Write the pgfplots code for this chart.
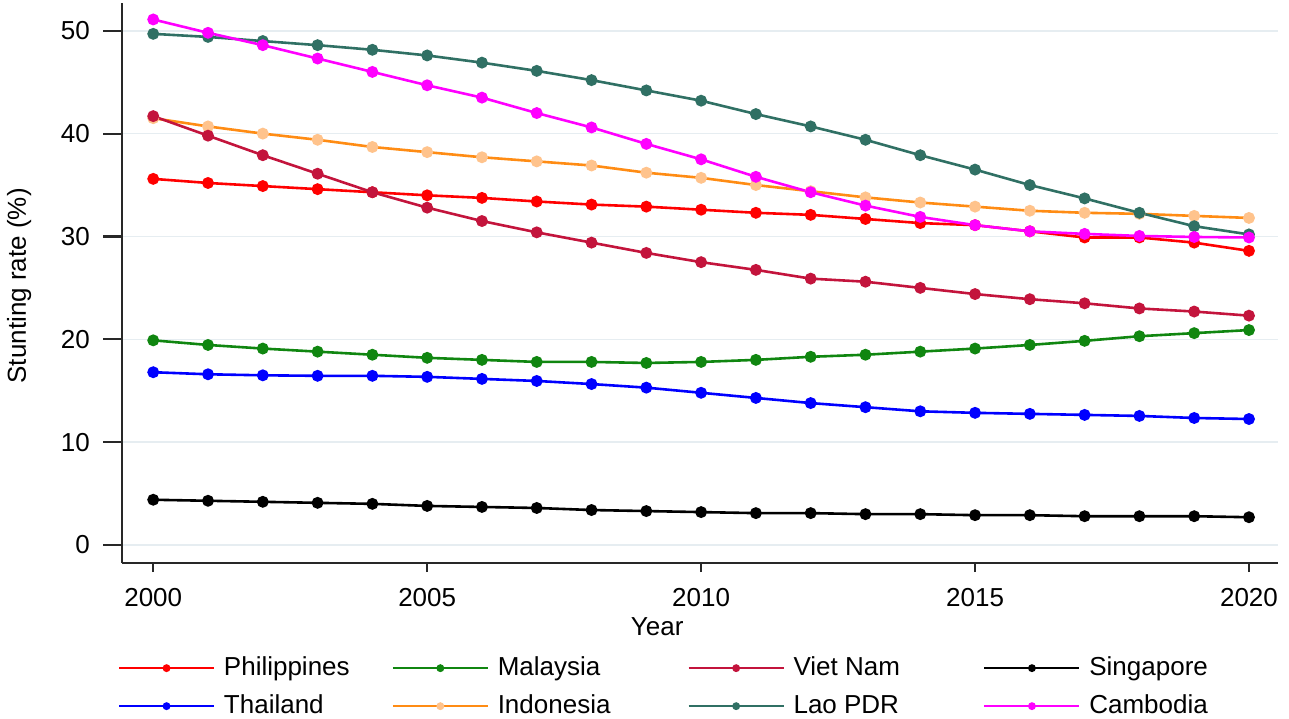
\documentclass[border=0pt]{standalone}
\usepackage{fontspec}
\setmainfont{Liberation Sans}
\usepackage{pgfplots}
\pgfplotsset{compat=1.18}
\definecolor{cPhil}{RGB}{255,0,0}
\definecolor{cMal}{RGB}{16,134,16}
\definecolor{cViet}{RGB}{195,20,60}
\definecolor{cSing}{RGB}{0,0,0}
\definecolor{cThai}{RGB}{0,0,255}
\definecolor{cIndo}{RGB}{255,140,20}
\definecolor{cIndoM}{RGB}{255,195,140}
\definecolor{cLao}{RGB}{48,112,100}
\definecolor{cCam}{RGB}{255,0,255}
\definecolor{cGrid}{RGB}{230,237,241}
\definecolor{cAxis}{RGB}{40,40,40}
\pgfplotstableread{
year phil mal viet sing thai indo lao cam
2000 35.6 19.9 41.7 4.4 16.8 41.5 49.7 51.1
2001 35.2 19.45 39.8 4.3 16.6 40.7 49.4 49.8
2002 34.9 19.1 37.9 4.2 16.5 40.0 49.0 48.6
2003 34.6 18.8 36.1 4.1 16.45 39.4 48.6 47.3
2004 34.3 18.5 34.3 4.0 16.45 38.7 48.15 46.0
2005 34.0 18.2 32.8 3.8 16.35 38.2 47.6 44.7
2006 33.75 18.0 31.5 3.7 16.15 37.7 46.9 43.5
2007 33.4 17.8 30.4 3.6 15.95 37.3 46.1 42.0
2008 33.1 17.8 29.4 3.4 15.65 36.9 45.2 40.6
2009 32.9 17.7 28.4 3.3 15.3 36.2 44.2 39.0
2010 32.6 17.8 27.5 3.2 14.8 35.7 43.2 37.5
2011 32.3 18.0 26.75 3.1 14.3 35.0 41.9 35.8
2012 32.1 18.3 25.9 3.1 13.8 34.4 40.7 34.3
2013 31.7 18.5 25.6 3.0 13.4 33.8 39.4 33.0
2014 31.3 18.8 25.0 3.0 13.0 33.3 37.9 31.9
2015 31.1 19.1 24.4 2.9 12.85 32.9 36.5 31.1
2016 30.5 19.45 23.9 2.9 12.75 32.5 35.0 30.5
2017 29.9 19.85 23.5 2.8 12.65 32.3 33.7 30.25
2018 29.9 20.3 23.0 2.8 12.55 32.2 32.3 30.05
2019 29.4 20.6 22.7 2.8 12.35 32.0 31.0 29.95
2020 28.6 20.9 22.3 2.7 12.25 31.8 30.2 29.9
}\data
\begin{document}
\begin{tikzpicture}
\useasboundingbox (-122bp,-156bp) rectangle (1167bp,563bp);
\begin{axis}[
  scale only axis,
  width=1156bp, height=560bp,
  xmin=1999.43, xmax=2020.53,
  ymin=-1.75, ymax=52.7,
  axis x line*=bottom, axis y line*=left,
  axis line style={-, draw=cAxis, line width=2.6bp},
  xtick={2000,2005,...,2020},
  ytick={0,10,...,50},
  tick align=outside,
  major tick length=19bp,
  xtick style={/pgfplots/major tick length=9bp},
  tick style={draw=cAxis, line width=2.2bp},
  ymajorgrids,
  grid style={draw=cGrid, line width=1.6bp},
  /pgf/number format/assume math mode=true,
  /pgf/number format/1000 sep={},
  font=\fontsize{26bp}{30bp}\selectfont,
  tick label style={font=\fontsize{26bp}{30bp}\selectfont, inner sep=0pt},
  yticklabel style={xshift=-13bp},
  xticklabel style={yshift=-6bp},
  xlabel={Year},
  xlabel style={at={(axis description cs:0.463,-0.1143)}, anchor=center},
  ylabel={Stunting rate (\%)},
  ylabel style={at={(axis description cs:-0.089,0.495)}, anchor=center},
  clip=false,
  legend columns=4,
  legend cell align=left,
  legend style={at={(axis description cs:-0.0035,-0.166)}, anchor=north west,
    draw=none, fill=none, inner sep=0pt,
    font=\fontsize{26bp}{30bp}\selectfont,
    nodes={inner sep=0pt, text height=19bp, text depth=5bp},
    row sep=14bp,
    /tikz/every odd column/.append style={column sep=9bp}},
  legend image code/.code={\draw[mark repeat=2,mark phase=2,#1] plot coordinates {(0bp,0bp) (47.5bp,0bp) (95bp,0bp)};},
  every axis plot/.append style={line width=2.6bp, mark=*, mark size=4.6bp, mark options={xscale=1.3, solid}},
]
% legend images in legend order
\addlegendimage{cPhil, line width=1.8bp, mark=*, mark size=3bp, mark options={fill=cPhil}}
\addlegendentry{\makebox[168bp][l]{Philippines}}
\addlegendimage{cMal, line width=1.8bp, mark=*, mark size=3bp, mark options={fill=cMal}}
\addlegendentry{\makebox[190bp][l]{Malaysia}}
\addlegendimage{cViet, line width=1.8bp, mark=*, mark size=3bp, mark options={fill=cViet}}
\addlegendentry{\makebox[190bp][l]{Viet Nam}}
\addlegendimage{cSing, line width=1.8bp, mark=*, mark size=3bp, mark options={fill=cSing}}
\addlegendentry{Singapore}
\addlegendimage{cThai, line width=1.8bp, mark=*, mark size=3bp, mark options={fill=cThai}}
\addlegendentry{\makebox[168bp][l]{Thailand}}
\addlegendimage{cIndo, line width=1.8bp, mark=*, mark size=3bp, mark options={draw=cIndoM, fill=cIndoM}}
\addlegendentry{\makebox[190bp][l]{Indonesia}}
\addlegendimage{cLao, line width=1.8bp, mark=*, mark size=3bp, mark options={fill=cLao}}
\addlegendentry{\makebox[190bp][l]{Lao PDR}}
\addlegendimage{cCam, line width=1.8bp, mark=*, mark size=3bp, mark options={fill=cCam}}
\addlegendentry{Cambodia}
% data series in drawing order
\addplot[forget plot, cPhil, mark options={fill=cPhil}] table[x=year, y=phil] {\data};
\addplot[forget plot, cMal, mark options={fill=cMal}] table[x=year, y=mal] {\data};
\addplot[forget plot, cSing, mark options={fill=cSing}] table[x=year, y=sing] {\data};
\addplot[forget plot, cThai, mark options={fill=cThai}] table[x=year, y=thai] {\data};
\addplot[forget plot, cIndo, mark options={draw=cIndoM, fill=cIndoM}] table[x=year, y=indo] {\data};
\addplot[forget plot, cViet, mark options={fill=cViet}] table[x=year, y=viet] {\data};
\addplot[forget plot, cLao, mark options={fill=cLao}] table[x=year, y=lao] {\data};
\addplot[forget plot, cCam, mark options={fill=cCam}] table[x=year, y=cam] {\data};
\end{axis}
\end{tikzpicture}
\end{document}
